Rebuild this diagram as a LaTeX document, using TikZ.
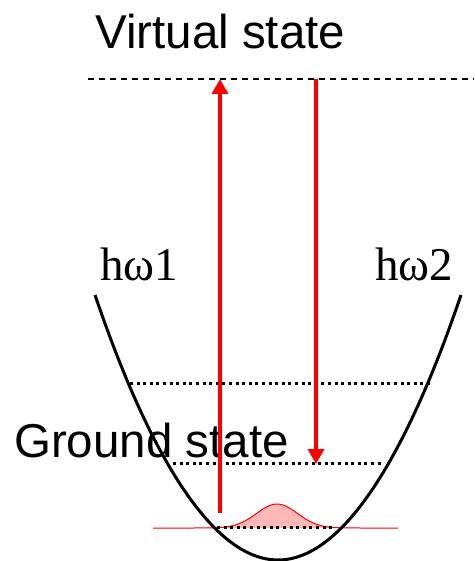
\documentclass[tikz,border=0pt]{standalone}
\usepackage{fontspec}
\setmainfont{Liberation Serif}
\newfontfamily\labelfont{Liberation Sans}
\usetikzlibrary{arrows.meta}

\begin{document}
\begin{tikzpicture}[
    x=1pt, y=-1pt,
    label/.style={anchor=base west, inner sep=0pt, font=\labelfont\fontsize{47.5}{50}\selectfont},
    freq/.style={anchor=base west, inner sep=0pt, font=\fontsize{47}{49}\selectfont},
    level/.style={line width=3pt, dash pattern=on 3pt off 3.6pt},
    photon/.style={red, line width=3.4pt, -{Triangle[length=15pt, width=16pt]}}
]
    \useasboundingbox (0,0) rectangle (474,561);

    % Labels
    \node[label] (virtual) at (95,49) {Virtual state};
    \node[label] (ground) at (14,457) {Ground state};
    \node[freq] (w1) at (100,280) {hω1};
    \node[freq] (w2) at (375,280) {hω2};

    % Virtual level
    \coordinate (vl) at (88,79);
    \coordinate (vr) at (474,79);
    \draw[line width=1.4pt, dash pattern=on 6pt off 5pt] (vl) -- (vr);

    % Ground state wave packet
    \coordinate (gl) at (153,528);
    \coordinate (gr) at (398,528);
    \fill[red!28] plot[domain=190:364, samples=60] (\x, {528-24*exp(-((\x-277)/29)^2)});
    \draw[red, line width=1pt] plot[domain=153:398, samples=100] (\x, {528-24*exp(-((\x-277)/29)^2)});

    % Vibrational levels
    \coordinate (l1a) at (130,383);
    \coordinate (l1b) at (430,383);
    \coordinate (l2a) at (173,463);
    \coordinate (l2b) at (381,463);
    \coordinate (l3a) at (217,527);
    \coordinate (l3b) at (334,527);
    \draw[level] (l1a) -- (l1b);
    \draw[level] (l2a) -- (l2b);
    \draw[level] (l3a) -- (l3b);

    % Potential well
    \draw[line width=3pt] (95,295) parabola bend (278,560) (461,295);

    % Photons
    \coordinate (up0) at (220,513);
    \coordinate (up1) at (220,79);
    \coordinate (dn0) at (316,79);
    \coordinate (dn1) at (316,464);
    \draw[photon] (up0) -- (up1);
    \draw[photon] (dn0) -- (dn1);
\end{tikzpicture}
\end{document}
